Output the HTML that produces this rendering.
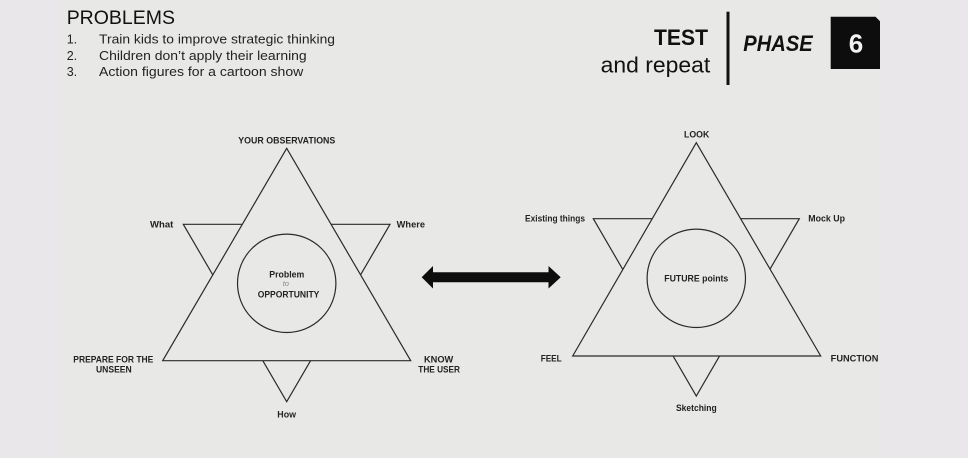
<!DOCTYPE html>
<html><head><meta charset="utf-8"><style>
html,body{margin:0;padding:0;background:#e9e7ea;}
svg{display:block;}
</style></head><body>
<svg width="968" height="458" viewBox="0 0 968 458" xmlns="http://www.w3.org/2000/svg" font-family="Liberation Sans, Arial, sans-serif">
<rect x="0" y="0" width="968" height="458" fill="#e9e7ea"/>
<rect x="60" y="0" width="821" height="458" fill="#e8e9e6"/>

<!-- Header left -->
<text x="66.7" y="24" font-size="19.5" fill="#111" textLength="108.3" lengthAdjust="spacingAndGlyphs">PROBLEMS</text>
<g font-size="12.5" fill="#222">
<text x="66.7" y="43.3">1.</text>
<text x="99" y="43.3" textLength="236" lengthAdjust="spacingAndGlyphs">Train kids to improve strategic thinking</text>
<text x="66.7" y="60">2.</text>
<text x="99" y="60" textLength="207.7" lengthAdjust="spacingAndGlyphs">Children don’t apply their learning</text>
<text x="66.7" y="76">3.</text>
<text x="99" y="76" textLength="204.3" lengthAdjust="spacingAndGlyphs">Action figures  for a cartoon show</text>
</g>

<!-- Header right -->
<text x="654" y="45" font-size="22" font-weight="bold" fill="#111" textLength="54" lengthAdjust="spacingAndGlyphs">TEST</text>
<text x="600.7" y="72.5" font-size="22" fill="#111" textLength="109.5" lengthAdjust="spacingAndGlyphs">and repeat</text>
<rect x="726.5" y="11.7" width="3" height="73.3" fill="#111"/>
<text x="743.3" y="51" font-size="22" font-weight="bold" font-style="italic" fill="#111" textLength="69.4" lengthAdjust="spacingAndGlyphs">PHASE</text>
<path d="M830.7 16.7 L875.5 16.7 L880 21.2 L880 69 L830.7 69 Z" fill="#0d0d0d"/>
<text x="856" y="52.3" font-size="26" font-weight="bold" fill="#f2f2f2" text-anchor="middle">6</text>

<!-- Left diagram -->
<g stroke="#2a2a2a" stroke-width="1.2" fill="#e8e9e6">
<polygon points="183.3,224.3 390,224.3 286.7,401.7"/>
<polygon points="286.7,148.3 162.7,360.7 410.7,360.7"/>
<circle cx="286.7" cy="283.3" r="49.2"/>
</g>
<g font-size="8.8" font-weight="bold" fill="#222">
<text x="238.3" y="143.5" textLength="97" lengthAdjust="spacingAndGlyphs">YOUR OBSERVATIONS</text>
<text x="150" y="227.7" textLength="23.3" lengthAdjust="spacingAndGlyphs">What</text>
<text x="396.7" y="227.7" textLength="28.3" lengthAdjust="spacingAndGlyphs">Where</text>
<text x="73.3" y="362.3" textLength="80" lengthAdjust="spacingAndGlyphs">PREPARE FOR THE</text>
<text x="96" y="372.7" textLength="35.7" lengthAdjust="spacingAndGlyphs">UNSEEN</text>
<text x="424" y="362.3" textLength="29.3" lengthAdjust="spacingAndGlyphs">KNOW</text>
<text x="418.3" y="372.7" textLength="41.7" lengthAdjust="spacingAndGlyphs">THE USER</text>
<text x="277.3" y="417.7" textLength="18.7" lengthAdjust="spacingAndGlyphs">How</text>
<text x="269.3" y="277.3" textLength="35" lengthAdjust="spacingAndGlyphs">Problem</text>
<text x="257.7" y="297.7" textLength="61.7" lengthAdjust="spacingAndGlyphs">OPPORTUNITY</text>
</g>
<text x="282.7" y="286" font-size="7.5" font-style="italic" fill="#888">to</text>

<!-- Double arrow -->
<polygon points="421.7,277.3 433,266 433,272.3 548.5,272.3 548.5,266 560.7,277.3 548.5,288.5 548.5,282.3 433,282.3 433,288.5" fill="#0d0d0d"/>

<!-- Right diagram -->
<g stroke="#2a2a2a" stroke-width="1.2" fill="#e8e9e6">
<polygon points="593.3,218.7 799.3,218.7 696.3,396"/>
<polygon points="696.3,142.7 572.7,356 820.7,356"/>
<circle cx="696.3" cy="278.3" r="49.2"/>
</g>
<g font-size="8.8" font-weight="bold" fill="#222">
<text x="684" y="137.7" textLength="25.3" lengthAdjust="spacingAndGlyphs">LOOK</text>
<text x="525" y="221.7" textLength="60" lengthAdjust="spacingAndGlyphs">Existing things</text>
<text x="808.3" y="221.7" textLength="36.7" lengthAdjust="spacingAndGlyphs">Mock Up</text>
<text x="540.7" y="361.7" textLength="21" lengthAdjust="spacingAndGlyphs">FEEL</text>
<text x="830.7" y="361.7" textLength="47.7" lengthAdjust="spacingAndGlyphs">FUNCTION</text>
<text x="676" y="411" textLength="40.7" lengthAdjust="spacingAndGlyphs">Sketching</text>
<text x="664.3" y="281.7" textLength="64" lengthAdjust="spacingAndGlyphs">FUTURE points</text>
</g>
</svg>
</body></html>
